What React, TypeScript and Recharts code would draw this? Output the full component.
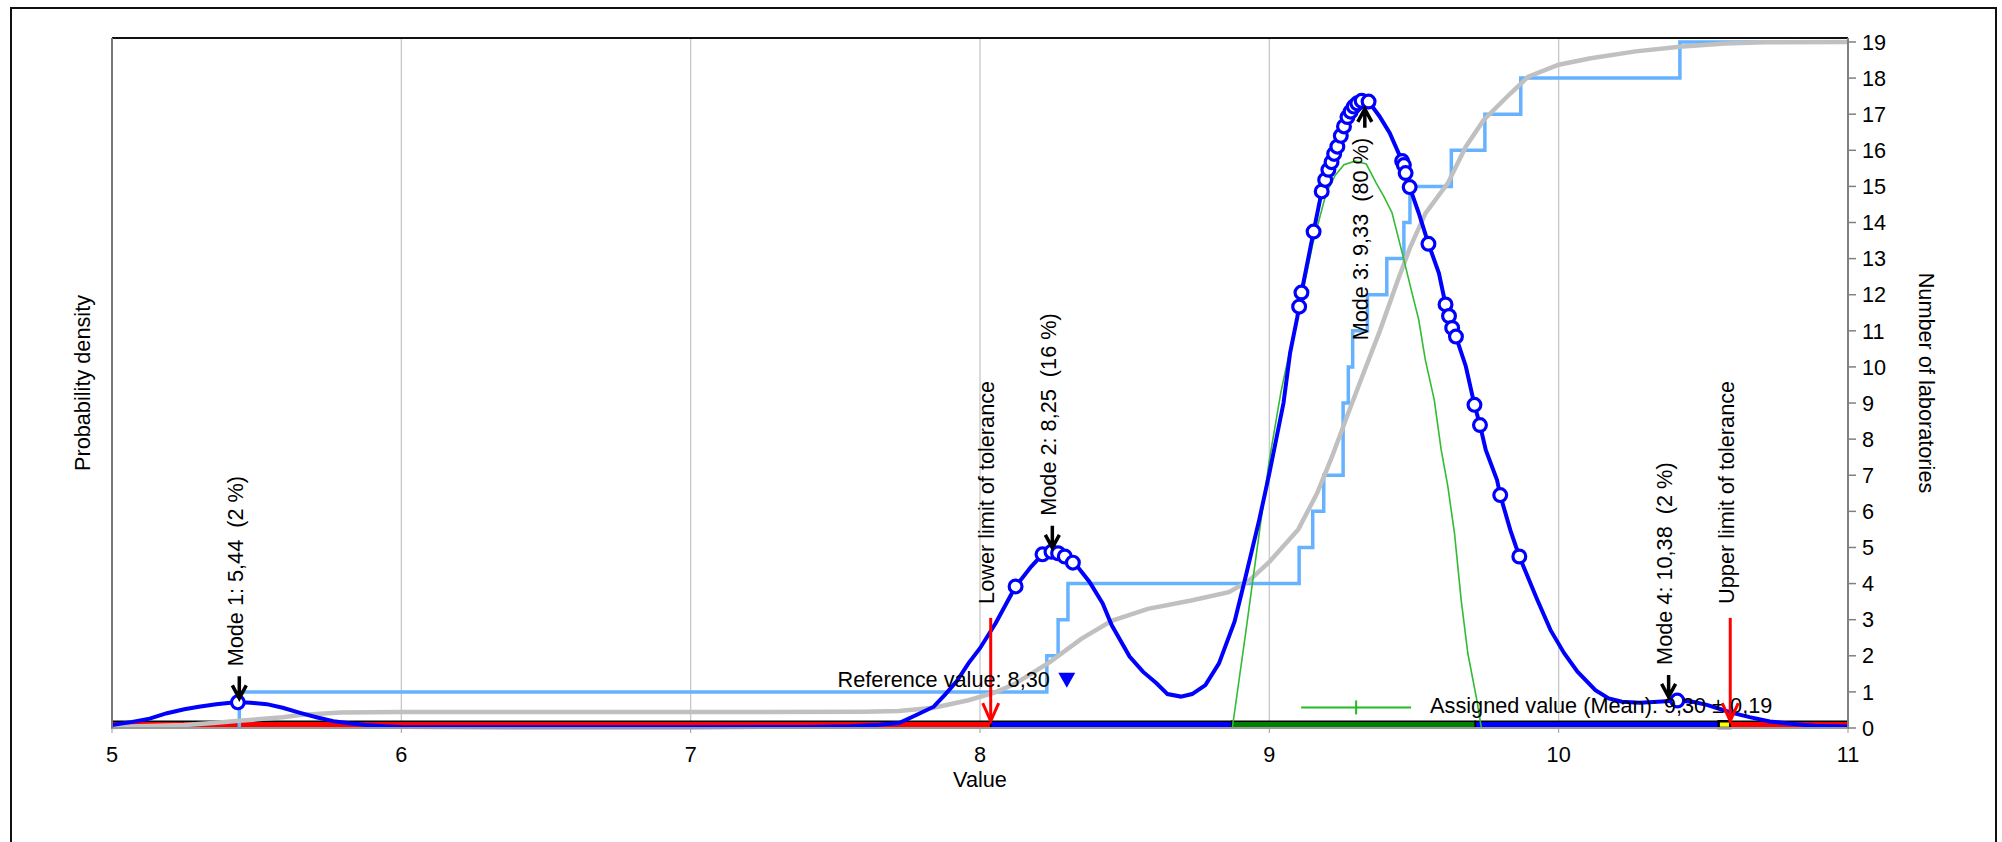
import React from 'react';
import {
  ComposedChart,
  Line,
  Scatter,
  XAxis,
  YAxis,
  CartesianGrid,
  ReferenceArea,
  ReferenceLine,
} from 'recharts';

// kernel density of all results (left axis, arbitrary units)
const densityPts = [
  [5.0, 0.08], [5.07, 0.17], [5.13, 0.26], [5.19, 0.41], [5.25, 0.52], [5.3, 0.59], [5.36, 0.66],
  [5.41, 0.7], [5.44, 0.71], [5.48, 0.7], [5.535, 0.66], [5.59, 0.56], [5.65, 0.42], [5.71, 0.29],
  [5.765, 0.19], [5.82, 0.13], [5.88, 0.08], [5.94, 0.05], [6.0, 0.03], [6.5, 0.02], [7.0, 0.02],
  [7.4, 0.03], [7.55, 0.05], [7.65, 0.09], [7.72, 0.14], [7.78, 0.36], [7.84, 0.59], [7.88, 0.93],
  [7.92, 1.3], [7.96, 1.79], [8.0, 2.21], [8.054, 2.9], [8.123, 3.92], [8.177, 4.47], [8.216, 4.81],
  [8.25, 4.88], [8.293, 4.79], [8.332, 4.52], [8.378, 4.05], [8.424, 3.45], [8.455, 2.85],
  [8.517, 1.98], [8.563, 1.56], [8.61, 1.24], [8.648, 0.94], [8.694, 0.87], [8.733, 0.94],
  [8.779, 1.19], [8.826, 1.79], [8.88, 2.95], [8.918, 4.19], [8.965, 5.76], [9.0, 7.05],
  [9.049, 9.0], [9.072, 10.4], [9.096, 11.35], [9.103, 11.67], [9.111, 12.06], [9.153, 13.75],
  [9.181, 14.86], [9.204, 15.46], [9.235, 16.1], [9.258, 16.66], [9.281, 17.07], [9.304, 17.3],
  [9.325, 17.38], [9.343, 17.35], [9.38, 16.95], [9.416, 16.48], [9.459, 15.7], [9.471, 15.37],
  [9.485, 14.98], [9.516, 14.27], [9.55, 13.41], [9.586, 12.6], [9.609, 11.73], [9.632, 11.08],
  [9.645, 10.84], [9.679, 10.02], [9.709, 8.95], [9.728, 8.39], [9.748, 7.7], [9.787, 6.87],
  [9.798, 6.45], [9.833, 5.48], [9.864, 4.75], [9.926, 3.55], [9.972, 2.71], [10.019, 2.07],
  [10.065, 1.56], [10.127, 1.05], [10.173, 0.82], [10.219, 0.73], [10.28, 0.7], [10.343, 0.73],
  [10.41, 0.76], [10.467, 0.72], [10.512, 0.64], [10.544, 0.56], [10.6, 0.42], [10.66, 0.3],
  [10.73, 0.18], [10.8, 0.12], [10.884, 0.06], [11.0, 0.04],
];

// single results drawn on the density curve
const resultPts = [
  [5.435, 0.71],
  [8.123, 3.92], [8.216, 4.81], [8.247, 4.88], [8.27, 4.84], [8.293, 4.75], [8.321, 4.58],
  [9.103, 11.67], [9.111, 12.06], [9.153, 13.75], [9.181, 14.86], [9.193, 15.18], [9.204, 15.46],
  [9.215, 15.67], [9.224, 15.9], [9.235, 16.1], [9.247, 16.4], [9.258, 16.66], [9.27, 16.92],
  [9.281, 17.07], [9.292, 17.21], [9.304, 17.3], [9.319, 17.37], [9.343, 17.35],
  [9.459, 15.7], [9.465, 15.59], [9.471, 15.37], [9.485, 14.98], [9.55, 13.41], [9.609, 11.73],
  [9.621, 11.41], [9.632, 11.08], [9.645, 10.84], [9.709, 8.95], [9.728, 8.39], [9.798, 6.45],
  [9.864, 4.75],
  [10.41, 0.76],
];

// smoothed cumulative number of laboratories
const cumulativePts = [
  [5.0, 0.03], [5.25, 0.08], [5.35, 0.14], [5.44, 0.2], [5.59, 0.3], [5.65, 0.36], [5.79, 0.43],
  [6.0, 0.44], [7.0, 0.44], [7.6, 0.45], [7.72, 0.47], [7.84, 0.56], [7.96, 0.77], [8.05, 0.98],
  [8.12, 1.22], [8.24, 1.82], [8.35, 2.47], [8.455, 2.97], [8.58, 3.3], [8.73, 3.53], [8.86, 3.76],
  [8.93, 4.08], [9.0, 4.6], [9.1, 5.5], [9.165, 6.5], [9.216, 7.5], [9.268, 8.62], [9.325, 9.82],
  [9.383, 11.02], [9.44, 12.31], [9.486, 13.3], [9.54, 14.26], [9.617, 15.09], [9.679, 16.1],
  [9.741, 16.84], [9.834, 17.58], [9.895, 18.04], [10.0, 18.37], [10.111, 18.55], [10.266, 18.74],
  [10.418, 18.87], [10.575, 18.96], [10.714, 18.99], [11.0, 19.0],
];

// empirical count of laboratories (step)
const stepX = [5.44, 5.44, 8.231, 8.27, 8.304, 9.103, 9.15, 9.188, 9.255, 9.273, 9.288, 9.339, 9.406, 9.465, 9.486, 9.629, 9.745, 9.869, 10.419, 11];
const stepCount = [0, 1, 2, 3, 4, 5, 6, 7, 9, 10, 11, 12, 13, 14, 15, 16, 17, 18, 19, 19];

// normal curve around the assigned value
const normalPts = [
  [8.872, 0], [8.918, 2.62], [8.965, 5.39], [9.0, 7.42], [9.04, 9.3], [9.08, 10.8], [9.111, 11.9],
  [9.15, 13.4], [9.196, 14.8], [9.227, 15.3], [9.258, 15.6], [9.296, 15.7], [9.335, 15.62],
  [9.369, 15.1], [9.397, 14.7], [9.424, 14.27], [9.462, 13.07], [9.493, 12.05], [9.516, 11.32],
  [9.539, 10.2], [9.57, 9.09], [9.594, 7.7], [9.617, 6.69], [9.64, 5.39], [9.663, 3.55],
  [9.686, 2.07], [9.717, 0.78], [9.733, 0],
];

const modeX = [5.44, 8.25, 9.33, 10.38];
const modePeak = [0.71, 4.88, 17.37, 0.75];
const modeText = ['Mode 1: 5,44  (2 %)', 'Mode 2: 8,25  (16 %)', 'Mode 3: 9,33  (80 %)', 'Mode 4: 10,38  (2 %)'];
const modeUp = [false, false, true, false];

const toleranceX = [8.037, 10.593];
const toleranceText = ['Lower limit of tolerance', 'Upper limit of tolerance'];
const toleranceTop = 3.05;

const bandEdges = [5, 8.037, 8.87, 9.712, 10.553, 10.593, 11];
const bandZones = ['out', 'in', 'unc', 'in', 'lab', 'out'];
const bandTop = 0.19;

const refValue = 8.3;
const refLevel = 1.32;
const refText = 'Reference value: 8,30';

const assignedMean = 9.3;
const assignedU = 0.19;
const assignedLevel = 0.57;
const assignedText = 'Assigned value (Mean): 9,30 ± 0,19';

const xTicks = [5, 6, 7, 8, 9, 10, 11];
const countTicks = [0, 1, 2, 3, 4, 5, 6, 7, 8, 9, 10, 11, 12, 13, 14, 15, 16, 17, 18, 19];

const zoneColor: Record<string, string> = {
  out: '#ff0000',
  in: '#0000ff',
  unc: '#008000',
  lab: '#ffff00',
};

const FONT = 21.7;
const Y_MAX = 19.11;

const toXY = (pts: number[][]) => pts.map(([x, y]) => ({ x, y }));

const modeData = modeX.map((x, i) => ({ x, y: modePeak[i], text: modeText[i], up: modeUp[i] }));
const tolTopData = toleranceX.map((x, i) => ({ x, y: toleranceTop, text: toleranceText[i] }));
const tolTipData = toleranceX.map((x) => ({ x, y: bandTop }));
const stepData = stepX.map((x, i) => ({ x, y: stepCount[i] }));

const ResultDot = (p: any) => {
  if (p.cx == null) return null;
  return <circle cx={p.cx} cy={p.cy} r={6.4} fill="#fff" stroke="#0000ff" strokeWidth={3.2} />;
};

const ModeMark = (p: any) => {
  const { cx, cy, payload } = p;
  if (cx == null) return null;
  const lx = cx - 4;
  if (payload.up) {
    const tip = cy + 8;
    const tail = cy + 27;
    const ty = cy + 37;
    return (
      <g>
        <path
          d={`M${cx},${tail}L${cx},${tip}M${cx - 7},${tip + 13}L${cx},${tip}L${cx + 7},${tip + 13}`}
          stroke="#000" strokeWidth={3.5} fill="none"
        />
        <text x={lx} y={ty} transform={`rotate(-90 ${lx} ${ty})`} textAnchor="end"
          dominantBaseline="central" fontSize={FONT} fill="#000" xmlSpace="preserve"
          style={{ whiteSpace: 'pre' }}>{payload.text}</text>
      </g>
    );
  }
  const tip = cy - 4;
  const tail = cy - 26;
  const ty = cy - 36;
  return (
    <g>
      <path
        d={`M${cx},${tail}L${cx},${tip}M${cx - 7},${tip - 13}L${cx},${tip}L${cx + 7},${tip - 13}`}
        stroke="#000" strokeWidth={3.5} fill="none"
      />
      <text x={lx} y={ty} transform={`rotate(-90 ${lx} ${ty})`} textAnchor="start"
        dominantBaseline="central" fontSize={FONT} fill="#000" xmlSpace="preserve"
        style={{ whiteSpace: 'pre' }}>{payload.text}</text>
    </g>
  );
};

const TolLabel = (p: any) => {
  const { cx, cy, payload } = p;
  if (cx == null) return null;
  const lx = cx - 4;
  const ty = cy - 14;
  return (
    <text x={lx} y={ty} transform={`rotate(-90 ${lx} ${ty})`} textAnchor="start"
      dominantBaseline="central" fontSize={FONT} fill="#000">{payload.text}</text>
  );
};

const TolTip = (p: any) => {
  const { cx, cy } = p;
  if (cx == null) return null;
  return (
    <path d={`M${cx - 8},${cy - 18}L${cx},${cy}L${cx + 8},${cy - 18}`} stroke="#ff0000" strokeWidth={3} fill="none" />
  );
};

const RefMark = (p: any) => {
  const { cx, cy } = p;
  if (cx == null) return null;
  return (
    <g>
      <polygon points={`${cx - 8.5},${cy - 7.5} ${cx + 8.5},${cy - 7.5} ${cx},${cy + 7.5}`} fill="#0000ff" />
      <text x={cx - 17} y={cy + 6.5} textAnchor="end" fontSize={FONT} fill="#000">{refText}</text>
    </g>
  );
};

const MeanTick = (p: any) => {
  const { cx, cy } = p;
  if (cx == null) return null;
  return <line x1={cx} x2={cx} y1={cy - 7} y2={cy + 7} stroke="#22bb22" strokeWidth={2} />;
};

const AssignedText = (p: any) => {
  const { cx, cy } = p;
  if (cx == null) return null;
  return <text x={cx + 19} y={cy + 6} fontSize={FONT} fill="#000">{assignedText}</text>;
};

export default function App() {
  const bands = bandZones.map((z, i) => (
    <ReferenceArea
      key={`band-${i}`}
      yAxisId="count"
      x1={bandEdges[i]}
      x2={bandEdges[i + 1]}
      y1={0}
      y2={bandTop}
      fill={zoneColor[z]}
      fillOpacity={1}
      stroke="#000"
      strokeWidth={z === 'lab' ? 2.5 : 1.5}
    />
  ));

  return (
    <div style={{ position: 'fixed', left: 0, top: 0, width: 2002, height: 842, overflow: 'hidden', background: '#fff' }}>
      <div style={{ position: 'absolute', left: 10, top: 7, width: 1983, height: 900, border: '2px solid #111' }} />
      <div style={{ position: 'absolute', left: 0, top: 0, fontFamily: '"Liberation Sans", Arial, sans-serif' }}>
        <ComposedChart width={2010} height={842} margin={{ top: 38, right: 4, bottom: 84, left: 53 }}>
          <CartesianGrid yAxisId="count" horizontal={false} stroke="#c8c8c8" strokeWidth={1.3} />
          <XAxis
            dataKey="x"
            type="number"
            domain={[5, 11]}
            ticks={xTicks}
            allowDataOverflow
            height={30}
            tickSize={5}
            tickMargin={14}
            tick={{ fontSize: FONT, fill: '#000' }}
            axisLine={{ stroke: '#999', strokeWidth: 2 }}
            tickLine={{ stroke: '#999' }}
            label={{ value: 'Value', position: 'bottom', offset: 14, fontSize: FONT, fill: '#000' }}
          />
          <YAxis
            yAxisId="dens"
            orientation="left"
            type="number"
            domain={[0, Y_MAX]}
            width={59}
            tick={false}
            tickLine={false}
            axisLine={{ stroke: '#777', strokeWidth: 2 }}
            label={{ value: 'Probability density', angle: -90, position: 'center', fontSize: FONT, fill: '#000' }}
          />
          <YAxis
            yAxisId="count"
            orientation="right"
            type="number"
            domain={[0, Y_MAX]}
            ticks={countTicks}
            interval={0}
            width={158}
            tickSize={8}
            tickMargin={6}
            tick={{ fontSize: FONT, fill: '#000' }}
            axisLine={{ stroke: '#808080', strokeWidth: 2 }}
            tickLine={{ stroke: '#808080', strokeWidth: 1.5 }}
            label={{ value: 'Number of laboratories', angle: 90, position: 'center', fontSize: FONT, fill: '#000' }}
          />
          {bands}
          <ReferenceLine yAxisId="count" y={Y_MAX} stroke="#111" strokeWidth={2} />
          <Line
            yAxisId="count"
            data={stepData}
            dataKey="y"
            type="stepAfter"
            stroke="#66b2ff"
            strokeWidth={3.5}
            dot={false}
            isAnimationActive={false}
          />
          <Line
            yAxisId="count"
            data={toXY(cumulativePts)}
            dataKey="y"
            type="linear"
            stroke="#c0c0c0"
            strokeWidth={4.5}
            dot={false}
            isAnimationActive={false}
          />
          <Line
            yAxisId="dens"
            data={toXY(normalPts)}
            dataKey="y"
            type="linear"
            stroke="#33bb33"
            strokeWidth={1.6}
            dot={false}
            isAnimationActive={false}
          />
          <Line
            yAxisId="dens"
            data={toXY(densityPts)}
            dataKey="y"
            type="linear"
            stroke="#0000ff"
            strokeWidth={4}
            dot={false}
            isAnimationActive={false}
          />
          <Scatter yAxisId="dens" data={toXY(resultPts)} dataKey="y" shape={ResultDot} isAnimationActive={false} />
          <ReferenceLine
            yAxisId="count"
            segment={[{ x: assignedMean - assignedU, y: assignedLevel }, { x: assignedMean + assignedU, y: assignedLevel }]}
            stroke="#22bb22"
            strokeWidth={2}
          />
          <Scatter yAxisId="count" data={[{ x: assignedMean, y: assignedLevel }]} dataKey="y" shape={MeanTick} isAnimationActive={false} />
          <Scatter yAxisId="count" data={[{ x: assignedMean + assignedU, y: assignedLevel }]} dataKey="y" shape={AssignedText} isAnimationActive={false} />
          <Scatter yAxisId="count" data={[{ x: refValue, y: refLevel }]} dataKey="y" shape={RefMark} isAnimationActive={false} />
          {toleranceX.map((x, i) => (
            <ReferenceLine
              key={`tol-${i}`}
              yAxisId="count"
              segment={[{ x, y: toleranceTop }, { x, y: bandTop }]}
              stroke="#ff0000"
              strokeWidth={3}
            />
          ))}
          <Scatter yAxisId="count" data={tolTipData} dataKey="y" shape={TolTip} isAnimationActive={false} />
          <Scatter yAxisId="count" data={tolTopData} dataKey="y" shape={TolLabel} isAnimationActive={false} />
          <Scatter yAxisId="dens" data={modeData} dataKey="y" shape={ModeMark} isAnimationActive={false} />
        </ComposedChart>
      </div>
    </div>
  );
}
